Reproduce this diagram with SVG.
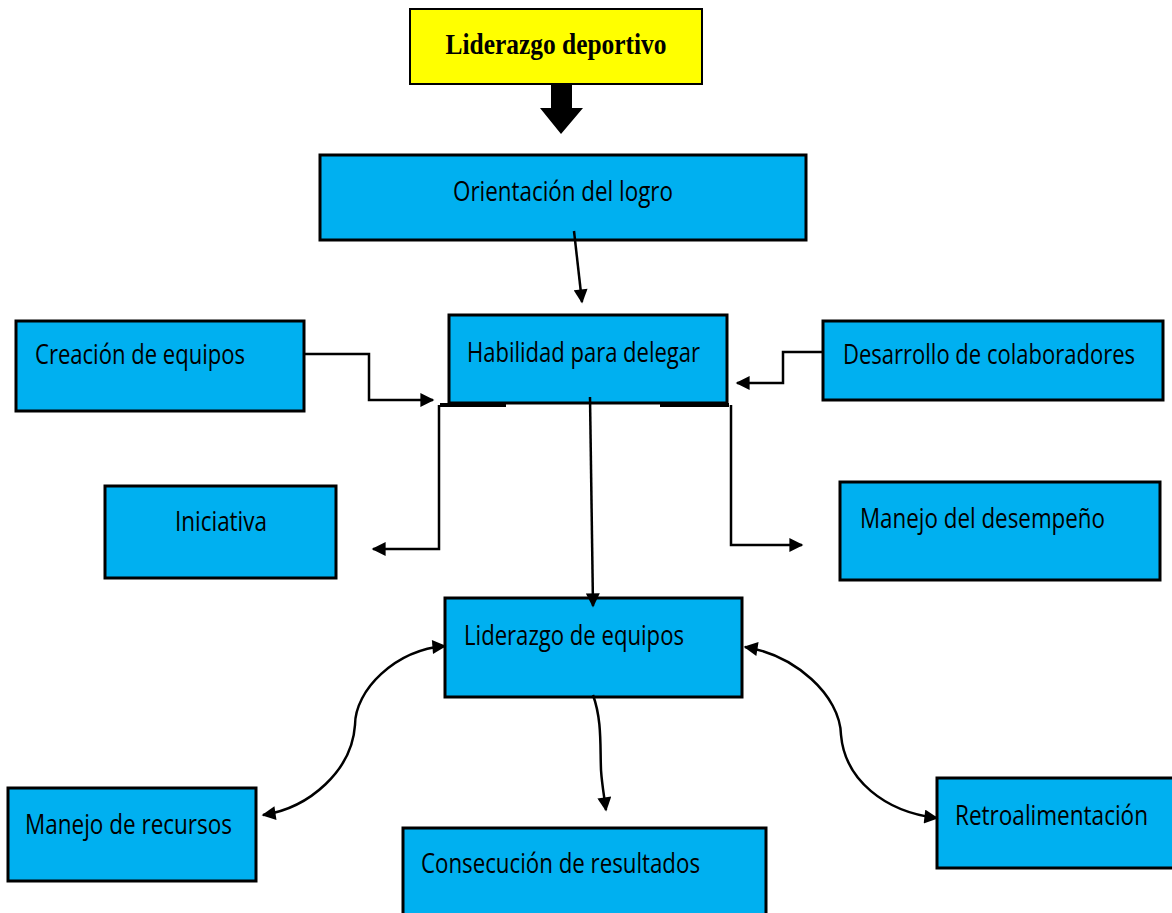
<svg xmlns="http://www.w3.org/2000/svg" width="1172" height="913" viewBox="0 0 1172 913">
<style>
.box{fill:#00B0F0;stroke:#000;stroke-width:3}
.lbl{font-family:"Open Sans","Liberation Sans",sans-serif;font-size:27px;fill:#000}
.ln{fill:none;stroke:#000;stroke-width:2.5}
</style>
<defs>
<marker id="ah" viewBox="0 0 10 10" refX="9" refY="5" markerWidth="15" markerHeight="14" markerUnits="userSpaceOnUse" orient="auto-start-reverse">
<path d="M0,0 L10,5 L0,10 z" fill="#000"/>
</marker>
</defs>
<rect width="1172" height="913" fill="#fff"/>
<g id="n-liderazgo-deportivo">
<rect x="410" y="9" width="292" height="75" fill="#FFFF00" stroke="#000" stroke-width="2"/>
<text x="556" y="54" text-anchor="middle" font-family="Liberation Serif,serif" font-weight="bold" font-size="29" textLength="221" lengthAdjust="spacingAndGlyphs">Liderazgo deportivo</text>
</g>
<g id="n-orientacion">
<rect class="box" x="320" y="155" width="486" height="85"/>
<text class="lbl" x="453" y="201" textLength="220" lengthAdjust="spacingAndGlyphs">Orientación del logro</text>
</g>
<g id="n-habilidad">
<rect class="box" x="449" y="315" width="278" height="88"/>
<text class="lbl" x="467" y="362" textLength="233" lengthAdjust="spacingAndGlyphs">Habilidad para delegar</text>
</g>
<g id="n-creacion">
<rect class="box" x="16" y="321" width="288" height="90"/>
<text class="lbl" x="35" y="364" textLength="210" lengthAdjust="spacingAndGlyphs">Creación de equipos</text>
</g>
<g id="n-desarrollo">
<rect class="box" x="823" y="321" width="340" height="79"/>
<text class="lbl" x="843" y="364" textLength="292" lengthAdjust="spacingAndGlyphs">Desarrollo de colaboradores</text>
</g>
<g id="n-iniciativa">
<rect class="box" x="105" y="486" width="231" height="92"/>
<text class="lbl" x="175" y="531" textLength="92" lengthAdjust="spacingAndGlyphs">Iniciativa</text>
</g>
<g id="n-manejo-desempeno">
<rect class="box" x="840" y="482" width="320" height="98"/>
<text class="lbl" x="860" y="528" textLength="245" lengthAdjust="spacingAndGlyphs">Manejo del desempeño</text>
</g>
<g id="n-liderazgo-equipos">
<rect class="box" x="445" y="598" width="297" height="99"/>
<text class="lbl" x="464" y="645" textLength="220" lengthAdjust="spacingAndGlyphs">Liderazgo de equipos</text>
</g>
<g id="n-manejo-recursos">
<rect class="box" x="8" y="788" width="248" height="93"/>
<text class="lbl" x="25" y="834" textLength="207" lengthAdjust="spacingAndGlyphs">Manejo de recursos</text>
</g>
<g id="n-consecucion">
<rect class="box" x="403" y="828" width="363" height="90"/>
<text class="lbl" x="421" y="873" textLength="279" lengthAdjust="spacingAndGlyphs">Consecución de resultados</text>
</g>
<g id="n-retro">
<rect class="box" x="937" y="778" width="240" height="90"/>
<text class="lbl" x="955" y="825" textLength="193" lengthAdjust="spacingAndGlyphs">Retroalimentación</text>
</g>
<g id="connectors">
<path d="M551,84 H572 V108 H583 L561,134 L540,108 H551 Z" fill="#000"/>
<path class="ln" d="M574,231 L582,302" marker-end="url(#ah)"/>
<path class="ln" d="M304,354 H369 V400 H433" marker-end="url(#ah)"/>
<path class="ln" d="M823,352 H783 V383 H737" marker-end="url(#ah)"/>
<path d="M440,405 H506 M660,405 H729" stroke="#000" stroke-width="4" fill="none"/>
<path class="ln" d="M439,405 V549 H373" marker-end="url(#ah)"/>
<path class="ln" d="M731,405 V545 H802" marker-end="url(#ah)"/>
<path class="ln" d="M590,397 L593,606" marker-end="url(#ah)"/>
<path class="ln" d="M593,695 C602,720 600,745 601,770 C602,785 604,795 606,810" marker-end="url(#ah)"/>
<path class="ln" d="M445,646 C395,650 355,690 355,725 C352,770 310,808 263,815" marker-start="url(#ah)" marker-end="url(#ah)"/>
<path class="ln" d="M745,647 C795,655 840,695 841,735 C845,780 885,812 937,818" marker-start="url(#ah)" marker-end="url(#ah)"/>
</g>
</svg>
